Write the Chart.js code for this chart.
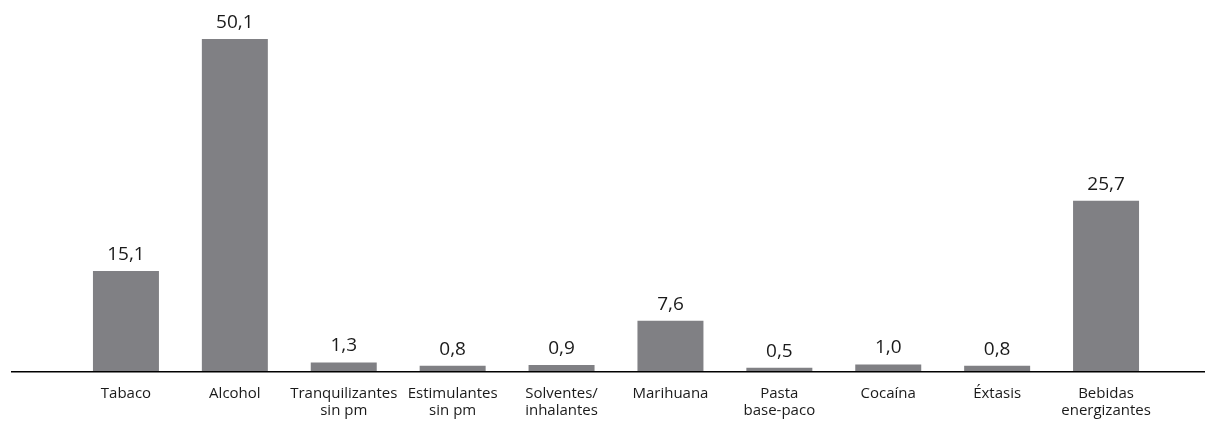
<!DOCTYPE html>
<html>
<head>
<meta charset="utf-8">
<script src="https://cdn.jsdelivr.net/npm/chart.js@4/dist/chart.umd.min.js"></script>
<style>
    html, body { margin: 0; padding: 0; background: #ffffff; }
    #wrap { width: 1208px; height: 447px; position: relative; }
</style>
</head>
<body>
<div id="wrap"><canvas id="barChart"></canvas></div>
<script>
const categories = [
    'Tabaco',
    'Alcohol',
    ['Tranquilizantes', 'sin pm'],
    ['Estimulantes', 'sin pm'],
    ['Solventes/', 'inhalantes'],
    'Marihuana',
    ['Pasta', 'base-paco'],
    'Cocaína',
    'Éxtasis',
    ['Bebidas', 'energizantes']
];
const values = [15.1, 50.1, 1.3, 0.8, 0.9, 7.6, 0.5, 1.0, 0.8, 25.7];

const fontName = '"Open Sans", "Noto Sans", sans-serif';

// value labels above the bars, comma decimals
const valueLabels = {
    id: 'valueLabels',
    afterDatasetsDraw(chart) {
        const ctx = chart.ctx;
        const meta = chart.getDatasetMeta(0);
        ctx.save();
        ctx.fillStyle = '#1a1a1a';
        ctx.font = '19px ' + fontName;
        ctx.textAlign = 'center';
        ctx.textBaseline = 'bottom';
        meta.data.forEach((bar, i) => {
            const txt = values[i].toFixed(1).replace('.', ',');
            ctx.fillText(txt, bar.x, bar.y - 7);
        });
        ctx.restore();
    }
};

// long baseline under the bars
const baseLine = {
    id: 'baseLine',
    afterDatasetsDraw(chart) {
        const ctx = chart.ctx;
        const y = chart.scales.y.getPixelForValue(0);
        ctx.save();
        ctx.strokeStyle = '#000000';
        ctx.lineWidth = 1.5;
        ctx.beginPath();
        ctx.moveTo(11, y + 0.75);
        ctx.lineTo(1205, y + 0.75);
        ctx.stroke();
        ctx.restore();
    }
};

const ctx = document.getElementById('barChart').getContext('2d');
new Chart(ctx, {
    type: 'bar',
    data: {
        labels: categories,
        datasets: [{
            data: values,
            backgroundColor: '#808084',
            borderWidth: 0,
            categoryPercentage: 1,
            barPercentage: 0.606
        }]
    },
    options: {
        responsive: true,
        maintainAspectRatio: false,
        animation: false,
        layout: {
            padding: { left: 71.5, right: 47.5, top: 0, bottom: 0 }
        },
        plugins: {
            legend: { display: false },
            tooltip: { enabled: false }
        },
        scales: {
            x: {
                grid: { display: false, drawTicks: false },
                border: { display: false },
                ticks: {
                    color: '#1a1a1a',
                    font: { family: fontName, size: 15, lineHeight: 1.15 },
                    padding: 14,
                    maxRotation: 0,
                    autoSkip: false
                },
                afterFit(scale) {
                    scale.height = 76;
                }
            },
            y: {
                display: false,
                min: 0,
                max: 56
            }
        }
    },
    plugins: [valueLabels, baseLine]
});
</script>
</body>
</html>
